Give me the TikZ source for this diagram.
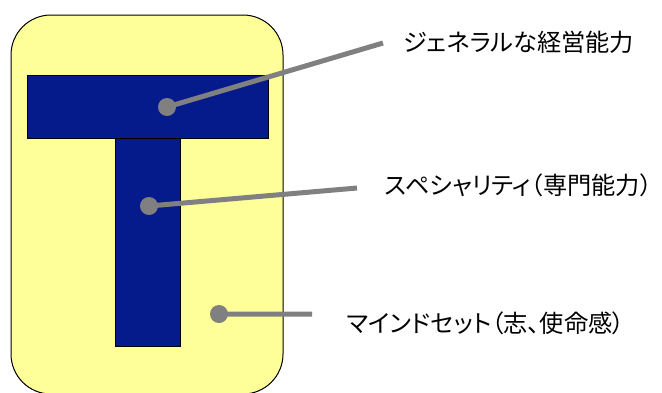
\documentclass[tikz,border=0pt]{standalone}
\usepackage{fontspec}
\usepackage{tikz}
\newfontfamily\jp{Noto Sans CJK JP}[RawFeature=+palt]
\definecolor{padyellow}{RGB}{255,255,153}
\definecolor{tnavy}{RGB}{6,27,139}
\definecolor{pingray}{RGB}{128,128,128}

\begin{document}
\begin{tikzpicture}[x=1pt,y=-1pt,
  pin dot/.style={circle,fill=pingray,draw=none,inner sep=0pt,minimum size=18pt},
  pin line/.style={draw=pingray,line width=5pt},
  label node/.style={anchor=west,inner sep=0pt,font=\jp\fontsize{24.2}{28}\selectfont},
  t part/.style={fill=tnavy,draw=black,line width=0.8pt}]

  \useasboundingbox (0,0) rectangle (662,392);
  \begin{scope}
  \clip (0,0) rectangle (662,392);
  \draw[fill=padyellow,line width=1pt,rounded corners=40pt] (11,15) rectangle (283,394);
  \end{scope}

  \draw[t part] (115,138) rectangle (180,346);
  \draw[t part] (27,75) rectangle (268,138);

  \node[pin dot] (d1) at (167,107) {};
  \node[pin dot] (d2) at (149,206) {};
  \node[pin dot] (d3) at (219,314) {};

  \node[label node] (l1) at (403,42) {ジェネラルな経営能力};
  \node[label node] (l2) at (385,185) {スペシャリティ（専門能力）};
  \node[label node] (l3) at (347,323) {マインドセット（志、使命感）};

  \coordinate (e1) at (383,43);
  \coordinate (e2) at (357,188);
  \coordinate (e3) at (312,314);

  \path[pin line]
    (d1.center) -- (e1)
    (d2.center) -- (e2)
    (d3.center) -- (e3)
    ;

\end{tikzpicture}
\end{document}
